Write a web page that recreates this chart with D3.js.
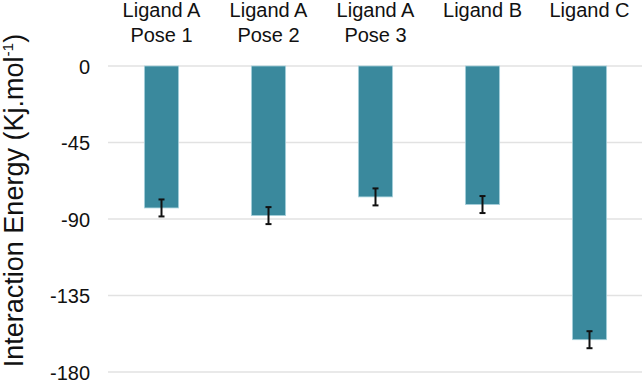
<!DOCTYPE html>
<html>
<head>
<meta charset="utf-8">
<script src="https://cdn.jsdelivr.net/npm/d3@7"></script>
<style>
  body { margin: 0; background: #fff; }
  text { font-family: "Liberation Sans", Arial, Helvetica, sans-serif; fill: #111; }
</style>
</head>
<body>
<script>
// chart data
let categories = ["Ligand A|Pose 1", "Ligand A|Pose 2", "Ligand A|Pose 3", "Ligand B", "Ligand C"];
let energies = [-83.5, -88, -77, -81.5, -161];
let errors = [5, 5, 5, 5, 5];
let yTicks = [0, -45, -90, -135, -180];

let size = {width: 644, height: 382};
let margin = {top: 66, right: 1, bottom: 10, left: 108};

let svg = d3.select("body").append("svg")
    .attr("width", size.width)
    .attr("height", size.height);

let data = categories.map((c, i) => ({name: c, value: energies[i], err: errors[i]}));

let x = d3.scaleBand()
    .domain(categories)
    .range([margin.left, size.width - margin.right])
    .paddingInner(0.68)
    .paddingOuter(0.34);

let y = d3.scaleLinear()
    .domain([0, -180])
    .range([margin.top, 372]);

// gridlines
svg.append("g")
    .selectAll("line")
    .data(yTicks)
    .join("line")
    .attr("x1", margin.left)
    .attr("x2", size.width - 2)
    .attr("y1", d => y(d))
    .attr("y2", d => y(d))
    .attr("stroke", "#e2e2e2")
    .attr("stroke-width", 1.5);

// y axis labels
let yAxis = d3.axisLeft(y)
    .tickValues(yTicks)
    .tickSize(0)
    .tickPadding(0)
    .tickFormat(d => String(d));

svg.append("g")
    .attr("transform", `translate(90,0)`)
    .call(yAxis)
    .call(g => g.select(".domain").remove())
    .call(g => g.selectAll("text")
        .attr("dy", "0.36em")
        .attr("font-size", 20)
        .attr("font-family", "Liberation Sans, Arial, sans-serif")
        .attr("fill", "#111"));

// bars
svg.append("g")
    .selectAll("rect")
    .data(data)
    .join("rect")
    .attr("x", d => x(d.name))
    .attr("y", y(0))
    .attr("width", x.bandwidth())
    .attr("height", d => y(d.value) - y(0))
    .attr("fill", "#3a899d")
    .attr("stroke", "#a9d2dd")
    .attr("stroke-width", 0.8);

// error bars
let eb = svg.append("g")
    .attr("stroke", "#111")
    .attr("stroke-width", 2);

eb.selectAll(".stem")
    .data(data)
    .join("line")
    .attr("x1", d => x(d.name) + x.bandwidth() / 2)
    .attr("x2", d => x(d.name) + x.bandwidth() / 2)
    .attr("y1", d => y(d.value + d.err))
    .attr("y2", d => y(d.value - d.err));

eb.selectAll(".cap")
    .data(data.flatMap(d => [d.value + d.err, d.value - d.err].map(v => ({name: d.name, v: v}))))
    .join("line")
    .attr("x1", d => x(d.name) + x.bandwidth() / 2 - 3)
    .attr("x2", d => x(d.name) + x.bandwidth() / 2 + 3)
    .attr("y1", d => y(d.v))
    .attr("y2", d => y(d.v));

// category labels on top
svg.append("g")
    .selectAll("text")
    .data(categories)
    .join("text")
    .attr("text-anchor", "middle")
    .attr("font-size", 20)
    .attr("transform", d => `translate(${x(d) + x.bandwidth() / 2},17)`)
    .selectAll("tspan")
    .data(d => d.split("|"))
    .join("tspan")
    .attr("x", 0)
    .attr("y", (d, i) => i * 24.5)
    .text(d => d);

// y title
let title = svg.append("text")
    .attr("transform", `translate(23,${(373 + 28) / 2}) rotate(-90)`)
    .attr("text-anchor", "middle")
    .attr("font-size", 27);
title.append("tspan").text("Interaction Energy (Kj.mol");
title.append("tspan").attr("font-size", 15.5).attr("dy", -10.5).text("-1");
title.append("tspan").attr("dy", 10.5).text(")");
</script>
</body>
</html>
